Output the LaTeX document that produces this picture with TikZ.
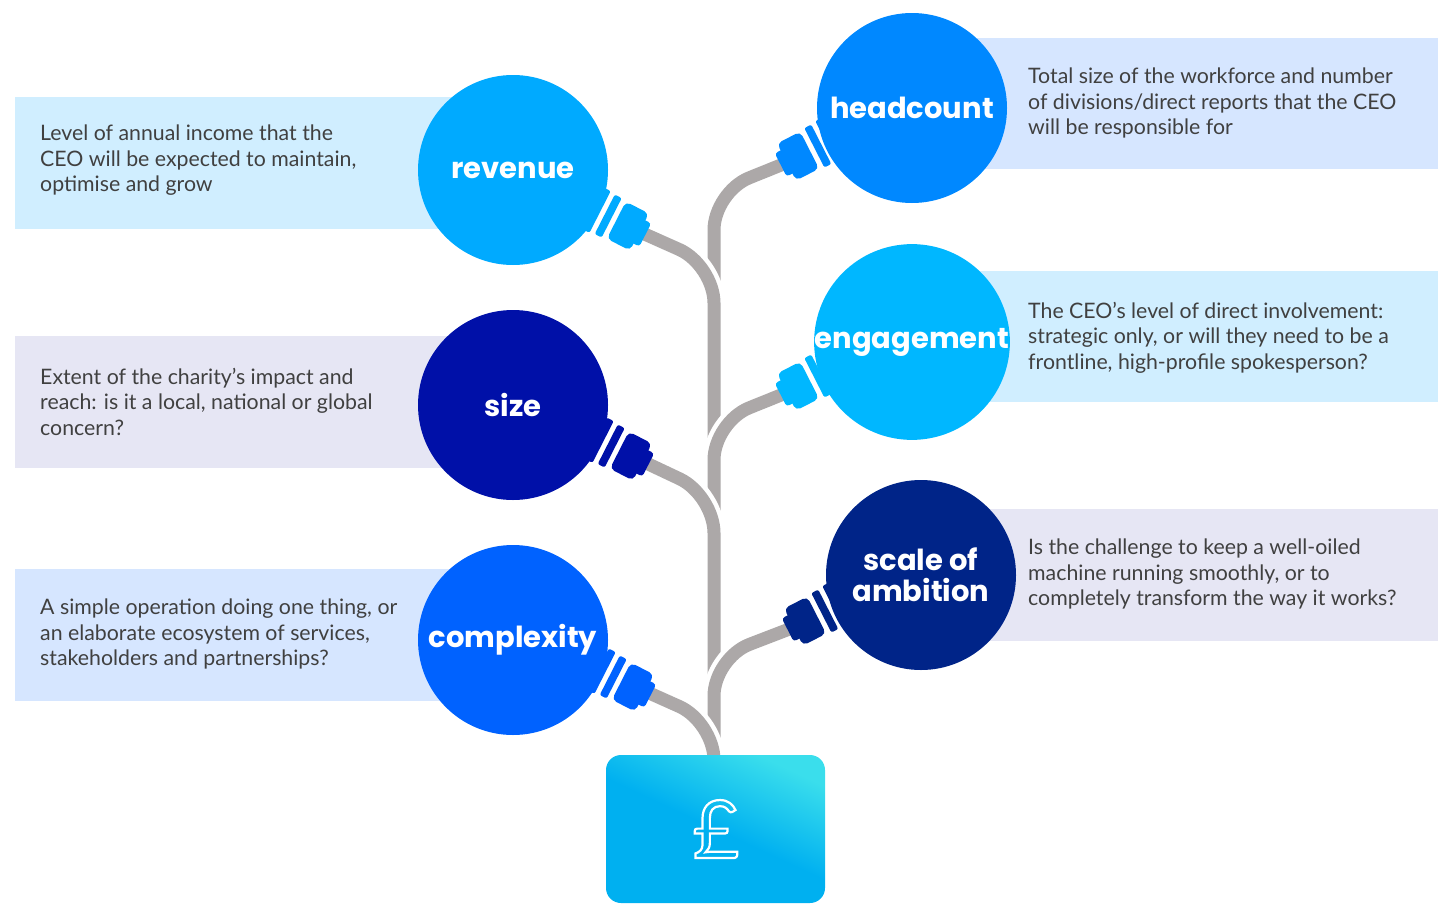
\documentclass[tikz,border=0pt]{standalone}
\usepackage{fontspec}
\setmainfont{Lato}
\newfontfamily\headfont{Poppins}
\definecolor{cRev}{RGB}{0,170,255}
\definecolor{cSize}{RGB}{0,16,168}
\definecolor{cCplx}{RGB}{0,98,255}
\definecolor{cHead}{RGB}{0,136,255}
\definecolor{cEng}{RGB}{0,183,255}
\definecolor{cScale}{RGB}{0,36,136}
\definecolor{boxA}{RGB}{208,238,255}
\definecolor{boxB}{RGB}{230,230,244}
\definecolor{boxC}{RGB}{214,230,255}
\definecolor{wire}{RGB}{172,168,168}
\definecolor{potA}{RGB}{0,176,240}
\definecolor{potB}{RGB}{58,222,236}
\tikzset{
  bulb/.style={circle,minimum size=190pt,inner sep=0pt,text=white,
    font=\headfont\bfseries\fontsize{29}{35}\selectfont,align=center},
  note/.style={anchor=north west,inner sep=0pt,text=black!75,align=left,
    font=\fontsize{21.3}{25.5}\selectfont},
  cable/.style={draw=white,line width=22pt,rounded corners=38pt,
    postaction={draw=wire,line width=13pt}},
}
\newcommand\lampbase[3]{% position, angle, colour
  \begin{scope}[shift={#1},rotate=#2,scale=1.3]
    \fill[#3,rounded corners=2pt] (-18,-18) rectangle (-12,18);
    \fill[#3,rounded corners=2pt] (-8,-17) rectangle (-2,17);
    \fill[#3,rounded corners=5pt] (2,-16) rectangle (22,16);
    \fill[#3,rounded corners=3pt] (16,-10) rectangle (27,10);
  \end{scope}}
\begin{document}
\begin{tikzpicture}[x=1pt,y=-1pt]
\useasboundingbox (0,0) rectangle (1451,913);

%text panels
\fill[boxA] (15,97) rectangle (470,229);
\fill[boxB] (15,336) rectangle (470,468);
\fill[boxC] (15,569) rectangle (470,701);
\fill[boxC] (960,38) rectangle (1438,169);
\fill[boxA] (960,271) rectangle (1438,402);
\fill[boxB] (960,509) rectangle (1438,641);

%cables
\coordinate (plug) at (714,760);
\coordinate (wRev) at (640,232);
\coordinate (wHead) at (786,163);
\coordinate (wSize) at (644,462);
\coordinate (wEng) at (786,393);
\coordinate (wCplx) at (647,692);
\coordinate (wScale) at (792,628);
\path[cable] (wHead) -- (714,192) -- (plug);
\path[cable] (wRev) -- (714,265) -- (plug);
\path[cable] (wEng) -- (714,422) -- (plug);
\path[cable] (wSize) -- (714,495) -- (plug);
\path[cable] (wScale) -- (714,658) -- (plug);
\path[cable] (wCplx) -- (714,722) -- (plug);

%bulbs
\lampbase{(614,219)}{-27}{cRev}
\lampbase{(617,449)}{-27}{cSize}
\lampbase{(619,680)}{-27}{cCplx}
\lampbase{(812,149)}{207}{cHead}
\lampbase{(812,379)}{207}{cEng}
\lampbase{(819,614)}{207}{cScale}
\node[bulb,fill=cRev] (revenue) at (513,170) {revenue};
\node[bulb,fill=cSize] (size) at (513,405) {size};
\node[bulb,fill=cCplx] (complexity) at (513,640) {complexity};
\node[bulb,fill=cHead] (headcount) at (912,108) {headcount};
\node[bulb,fill=cEng] (engagement) at (912,342) {engagement};
\node[bulb,fill=cScale] (scale) at (921,575) {scale of\\[-4pt]ambition};

%notes
\node[note] (nRev) at (40,125) {Level of annual income that the\\CEO will be expected to maintain,\\optimise and grow};
\node[note] (nSize) at (40,368) {Extent of the charity’s impact and\\reach: is it a local, national or global\\concern?};
\node[note] (nCplx) at (40,599) {A simple operation doing one thing, or\\an elaborate ecosystem of services,\\stakeholders and partnerships?};
\node[note] (nHead) at (1028,68) {Total size of the workforce and number\\of divisions/direct reports that the CEO\\will be responsible for};
\node[note] (nEng) at (1028,302) {The CEO’s level of direct involvement:\\strategic only, or will they need to be a\\frontline, high-profile spokesperson?};
\node[note] (nScale) at (1028,539) {Is the challenge to keep a well-oiled\\machine running smoothly, or to\\completely transform the way it works?};

%money box
\shade[rounded corners=15pt,top color=potB,bottom color=potA,middle color=potA,shading angle=-25]
  (606,755) rectangle (825,903);
\node[text=white,font=\fontsize{80}{80}\selectfont] (pound) at (716,829)
  {\special{pdf:code q 1 Tr 2.2 w 1 1 1 RG}£\special{pdf:code Q}};
\end{tikzpicture}
\end{document}
